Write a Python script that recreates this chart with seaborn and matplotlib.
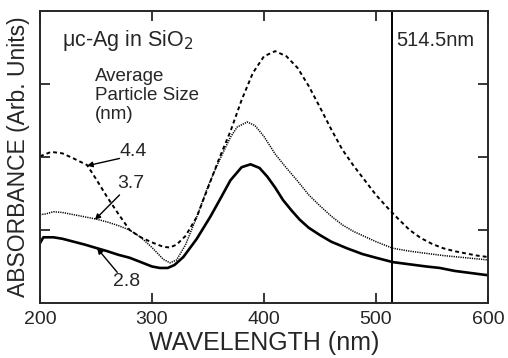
import numpy as np
import pandas as pd
import matplotlib
matplotlib.use("Agg")
import matplotlib.pyplot as plt
import seaborn as sns

# ---- data ----
wl_44 = [200, 210, 220, 230, 242, 250, 260, 270, 280, 290, 300, 310, 316, 322, 330, 340, 350, 360, 370, 380,
         390, 400, 410, 420, 430, 440, 450, 460, 470, 480, 490, 500, 510, 520, 530, 540, 550, 560, 570, 580, 590, 600]
ab_44 = [2.01, 2.07, 2.05, 1.98, 1.89, 1.70, 1.45, 1.22, 1.00, 0.90, 0.83, 0.77, 0.76, 0.80, 0.92, 1.18, 1.58, 1.98, 2.35, 2.78,
         3.15, 3.38, 3.45, 3.38, 3.22, 2.97, 2.68, 2.38, 2.10, 1.88, 1.68, 1.48, 1.31, 1.15, 1.00, 0.89, 0.81, 0.75, 0.71, 0.68, 0.65, 0.63]

wl_37 = [200, 205, 212, 220, 230, 240, 250, 260, 270, 280, 290, 300, 310, 316, 322, 330, 340, 350, 360, 370,
         376, 385, 392, 400, 410, 420, 430, 440, 450, 460, 470, 480, 490, 500, 515, 530, 545, 560, 580, 600]
ab_37 = [1.21, 1.22, 1.25, 1.24, 1.21, 1.18, 1.15, 1.11, 1.06, 1.00, 0.90, 0.76, 0.60, 0.55, 0.59, 0.80, 1.18, 1.60, 1.95, 2.27,
         2.41, 2.48, 2.43, 2.28, 2.04, 1.85, 1.67, 1.48, 1.33, 1.19, 1.07, 0.98, 0.91, 0.84, 0.75, 0.71, 0.68, 0.65, 0.62, 0.59]

wl_28 = [200, 203, 212, 220, 230, 240, 251, 260, 270, 280, 290, 300, 307, 314, 320, 328, 340, 352, 360, 370,
         380, 388, 396, 403, 410, 417, 425, 432, 440, 450, 460, 474, 488, 500, 515, 530, 545, 557, 570, 585, 600]
ab_28 = [0.82, 0.90, 0.90, 0.88, 0.84, 0.80, 0.75, 0.71, 0.66, 0.62, 0.56, 0.50, 0.48, 0.48, 0.52, 0.63, 0.88, 1.18, 1.40, 1.68,
         1.86, 1.90, 1.85, 1.73, 1.58, 1.41, 1.26, 1.14, 1.03, 0.93, 0.84, 0.75, 0.67, 0.62, 0.56, 0.53, 0.50, 0.48, 0.44, 0.41, 0.38]

sizes = ["4.4", "3.7", "2.8"]
laser_nm = 514.5
x_ticks = [200, 300, 400, 500, 600]
y_ticks = [1, 2, 3]

df = pd.concat([
    pd.DataFrame({"wl": wl_44, "ab": ab_44, "size": "4.4"}),
    pd.DataFrame({"wl": wl_37, "ab": ab_37, "size": "3.7"}),
    pd.DataFrame({"wl": wl_28, "ab": ab_28, "size": "2.8"}),
])

sns.set_style("ticks")
plt.rcParams["font.family"] = ["Liberation Sans", "DejaVu Sans"]

fig = plt.figure(figsize=(5.08, 3.58), dpi=100)
ax = fig.add_axes([40/508, 1-303/358, 448/508, 292/358])

styles = {"4.4": dict(ls=(0, (2.0, 1.6)), lw=1.4),
          "3.7": dict(ls=(0, (0.8, 0.7)), lw=1.1),
          "2.8": dict(ls="-", lw=1.9)}
for s in sizes:
    sub = df[df["size"] == s]
    sns.lineplot(data=sub, x="wl", y="ab", ax=ax, color="black",
                 linestyle=styles[s]["ls"], linewidth=styles[s]["lw"],
                 estimator=None, sort=False)

ax.axvline(laser_nm, color="black", lw=1.4)

ax.set_xlim(200, 600)
ax.set_ylim(0, 4)
ax.set_xticks(x_ticks)
ax.set_yticks(y_ticks)
ax.set_yticklabels([])
ax.tick_params(direction="in", length=7, width=1.3, top=True, right=True,
               labelsize=14, pad=6)
for sp in ax.spines.values():
    sp.set_linewidth(1.4)
    sp.set_visible(True)

ax.set_xlabel("WAVELENGTH (nm)", fontsize=18, labelpad=2)
ax.set_ylabel("ABSORBANCE (Arb. Units)", fontsize=16.5, labelpad=1.5)

ax.text(220, 3.6, "μc-Ag in SiO$_2$", fontsize=15.5, va="center", ha="left")
ax.text(249, 3.22, "Average\nParticle Size\n(nm)", fontsize=13.5,
        va="top", ha="left", linespacing=1.15)
ax.text(518, 3.6, "514.5nm", fontsize=14.5, va="center", ha="left")

ap = dict(arrowstyle="-|>", color="black", lw=1.0, mutation_scale=8,
          shrinkA=0, shrinkB=0)
ax.text(271, 2.07, "4.4", fontsize=14, va="center", ha="left")
ax.text(269, 1.64, "3.7", fontsize=14, va="center", ha="left")
ax.text(265, 0.29, "2.8", fontsize=14, va="center", ha="left")
ax.annotate("", xy=(242, 1.88), xytext=(271, 1.98), arrowprops=ap)
ax.annotate("", xy=(249, 1.14), xytext=(271, 1.48), arrowprops=ap)
ax.annotate("", xy=(251, 0.75), xytext=(269, 0.42), arrowprops=ap)

fig.savefig("out.png", dpi=100)
